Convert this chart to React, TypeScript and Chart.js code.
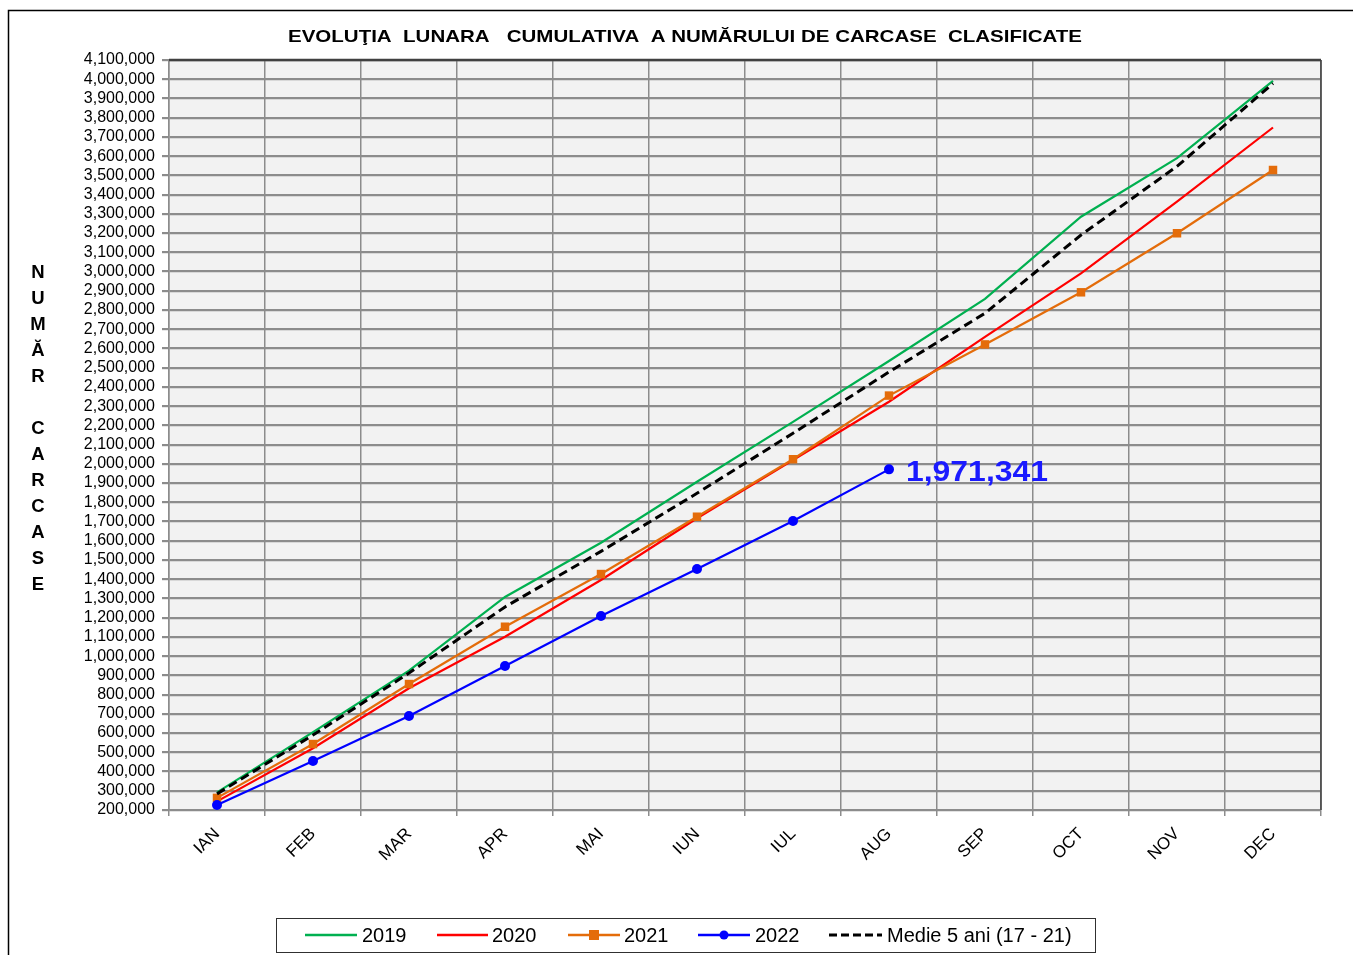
import React, { useEffect, useRef } from "react";
import { Chart, registerables } from "chart.js";

Chart.register(...registerables);

const months = ["IAN", "FEB", "MAR", "APR", "MAI", "IUN", "IUL", "AUG", "SEP", "OCT", "NOV", "DEC"];
const s2019 = [292000, 605000, 925000, 1308000, 1590000, 1907000, 2218000, 2535000, 2858000, 3285000, 3590000, 3992000];
const s2020 = [245000, 521000, 833000, 1101000, 1396000, 1717000, 2020000, 2323000, 2660000, 2990000, 3363000, 3749000];
const s2021 = [263000, 543000, 855000, 1153000, 1427000, 1725000, 2024000, 2355000, 2621000, 2892000, 3199000, 3528000];
const s2022 = [226000, 455000, 689000, 949000, 1209000, 1453000, 1703000, 1971341, null, null, null, null];
const medie = [284000, 590000, 912000, 1256000, 1545000, 1847000, 2159000, 2478000, 2783000, 3190000, 3547000, 3978000];

const yMin = 200000;
const yMax = 4100000;
const yStep = 100000;

const titleText = "EVOLUŢIA  LUNARA   CUMULATIVA  A NUMĂRULUI DE CARCASE  CLASIFICATE";
const yTitleLetters = ["N", "U", "M", "Ă", "R", "", "C", "A", "R", "C", "A", "S", "E"];
const legendLabels = ["2019", "2020", "2021", "2022", "Medie 5 ani (17 - 21)"];
const annotationText = "1,971,341";

const FONT = "Arial, 'Liberation Sans', sans-serif";

function drawText(ctx: CanvasRenderingContext2D, text: string, x: number, y: number, font: string, color: string, align: CanvasTextAlign, targetW?: number) {
  ctx.save();
  ctx.font = font;
  ctx.fillStyle = color;
  ctx.textBaseline = "middle";
  ctx.textAlign = align;
  const w = ctx.measureText(text).width;
  const sx = targetW ? targetW / w : 1;
  ctx.translate(x, y);
  ctx.scale(sx, 1);
  ctx.fillText(text, 0, 0);
  ctx.restore();
}

const decorPlugin = {
  id: "decor",
  beforeDraw(chart: any) {
    const { ctx, chartArea: a } = chart;
    ctx.save();
    ctx.fillStyle = "#ffffff";
    ctx.fillRect(0, 0, chart.width, chart.height);
    ctx.fillStyle = "#f2f2f2";
    ctx.fillRect(a.left, a.top, a.right - a.left, a.bottom - a.top);
    ctx.strokeStyle = "#000";
    ctx.lineWidth = 1.5;
    ctx.strokeRect(8.5, 10.5, chart.width + 20, chart.height + 20);
    ctx.restore();
  },
  afterDatasetsDraw(chart: any) {
    const { ctx, chartArea: a } = chart;
    ctx.save();
    ctx.strokeStyle = "#404040";
    ctx.lineWidth = 2.5;
    ctx.beginPath();
    ctx.moveTo(a.left, a.top);
    ctx.lineTo(a.right, a.top);
    ctx.stroke();
    ctx.lineWidth = 1.5;
    ctx.beginPath();
    ctx.moveTo(a.right, a.top);
    ctx.lineTo(a.right, a.bottom);
    ctx.stroke();
    ctx.restore();

    const meta = chart.getDatasetMeta(3);
    const pt = meta.data[7];
    if (pt) {
      drawText(ctx, annotationText, pt.x + 17, pt.y + 3, `bold 30px ${FONT}`, "#1a1aff", "left", 142);
    }
  },
  afterDraw(chart: any) {
    const { ctx } = chart;
    drawText(ctx, titleText, 685, 37, `bold 17px ${FONT}`, "#000", "center", 794);
    yTitleLetters.forEach((l, i) => {
      if (l) drawText(ctx, l, 38, 273 + i * 26, `bold 18.5px ${FONT}`, "#000", "center");
    });
    ctx.save();
    ctx.strokeStyle = "#303030";
    ctx.lineWidth = 1;
    ctx.strokeRect(276.5, 918.5, 819, 34);
    const ly = 935;
    const items = [
      { x0: 305, x1: 357, tx: 362, color: "#00B050", dash: [] as number[], w: 2.5, marker: "" },
      { x0: 437, x1: 488, tx: 492, color: "#FF0000", dash: [], w: 2.5, marker: "" },
      { x0: 568, x1: 620, tx: 624, color: "#E46C0A", dash: [], w: 2.5, marker: "rect" },
      { x0: 698, x1: 750, tx: 755, color: "#0000FF", dash: [], w: 2.5, marker: "circle" },
      { x0: 829, x1: 882, tx: 887, color: "#000000", dash: [8, 4], w: 3, marker: "" },
    ];
    items.forEach((it, i) => {
      ctx.save();
      ctx.strokeStyle = it.color;
      ctx.lineWidth = it.w;
      ctx.setLineDash(it.dash);
      ctx.beginPath();
      ctx.moveTo(it.x0, ly);
      ctx.lineTo(it.x1, ly);
      ctx.stroke();
      ctx.setLineDash([]);
      ctx.fillStyle = it.color;
      const cx = (it.x0 + it.x1) / 2;
      if (it.marker === "rect") ctx.fillRect(cx - 5, ly - 5, 10, 10);
      if (it.marker === "circle") {
        ctx.beginPath();
        ctx.arc(cx, ly, 4.5, 0, Math.PI * 2);
        ctx.fill();
      }
      ctx.restore();
      drawText(ctx, legendLabels[i], it.tx, ly + 1, `20px ${FONT}`, "#000", "left");
    });
    ctx.restore();
  },
};

export default function App() {
  const ref = useRef<HTMLCanvasElement>(null);
  useEffect(() => {
    document.body.style.margin = "0";
    const canvas = ref.current!;
    const chart = new Chart(canvas, {
      type: "line",
      data: {
        labels: months,
        datasets: [
          { label: "2019", data: s2019, borderColor: "#00B050", backgroundColor: "#00B050", borderWidth: 2.2, pointRadius: 0, order: 4, tension: 0 },
          { label: "2020", data: s2020, borderColor: "#FF0000", backgroundColor: "#FF0000", borderWidth: 2.2, pointRadius: 0, order: 3, tension: 0 },
          { label: "2021", data: s2021, borderColor: "#E46C0A", backgroundColor: "#E46C0A", borderWidth: 2.2, pointRadius: 6, pointStyle: "rect", pointBorderWidth: 0, order: 2, tension: 0 },
          { label: "2022", data: s2022, borderColor: "#0000FF", backgroundColor: "#0000FF", borderWidth: 2.2, pointRadius: 5, pointStyle: "circle", pointBorderWidth: 0, order: 1, tension: 0 },
          { label: "Medie 5 ani (17 - 21)", data: medie, borderColor: "#000000", backgroundColor: "#000000", borderWidth: 3, borderDash: [9, 5], pointRadius: 0, order: 0, tension: 0 },
        ] as any,
      },
      options: {
        responsive: false,
        animation: false,
        devicePixelRatio: 1,
        layout: { padding: { top: 60, right: 32, left: 0, bottom: 0 } },
        plugins: {
          legend: { display: false },
          title: { display: false },
          tooltip: { enabled: false },
        },
        scales: {
          x: {
            offset: true,
            grid: { offset: true, color: "#8c8c8c", lineWidth: 1.5, tickLength: 6, drawTicks: true },
            border: { color: "#8c8c8c", width: 1.5 },
            ticks: { minRotation: 45, maxRotation: 45, autoSkip: false, color: "#000", padding: 8, font: { family: FONT, size: 17 } },
            afterFit: (s: any) => { s.height = 145; },
          },
          y: {
            min: yMin,
            max: yMax,
            grid: { color: "#8c8c8c", lineWidth: 2.2, tickLength: 7 },
            border: { color: "#8c8c8c", width: 1.5 },
            ticks: {
              stepSize: yStep,
              autoSkip: false,
              color: "#000",
              padding: 7,
              font: { family: FONT, size: 16 },
              callback: (v: any) => Number(v).toLocaleString("en-US"),
            },
            afterFit: (s: any) => { s.width = 169; },
          },
        },
      } as any,
      plugins: [decorPlugin],
    });
    return () => chart.destroy();
  }, []);
  return <canvas ref={ref} width={1353} height={955} style={{ display: "block" }} />;
}
